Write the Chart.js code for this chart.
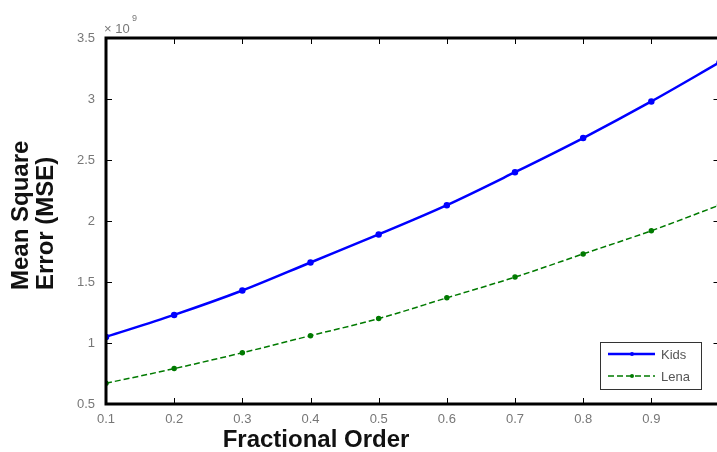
<!DOCTYPE html>
<html>
<head>
<meta charset="utf-8">
<script src="https://cdn.jsdelivr.net/npm/chart.js@4"></script>
<style>
  html, body { margin: 0; padding: 0; background: #fff; overflow: hidden; }
  #wrap { width: 717px; height: 452px; overflow: hidden; }
  canvas { display: block; }
</style>
</head>
<body>
<div id="wrap"><canvas id="chart" width="724" height="452"></canvas></div>
<script>
// fractional order values on the x axis
const orders = [0.1, 0.2, 0.3, 0.4, 0.5, 0.6, 0.7, 0.8, 0.9, 1.0];
// MSE in units of 1e9
const kidsMse = [1.05, 1.23, 1.43, 1.66, 1.89, 2.13, 2.40, 2.68, 2.98, 3.30];
const lenaMse = [0.67, 0.79, 0.92, 1.06, 1.20, 1.37, 1.54, 1.73, 1.92, 2.13];
const seriesNames = ['Kids', 'Lena'];
const yTitle = ['Mean Square', 'Error (MSE)'];
const xTitle = 'Fractional Order';

const toPoints = vals => vals.map((v, i) => ({ x: orders[i], y: v }));

// frame, inward ticks, titles, exponent and legend, MATLAB style
const matlabBits = {
    id: 'matlabBits',
    afterDatasetsDraw(chart) {
        const { ctx, chartArea: a, scales } = chart;
        ctx.save();
        ctx.strokeStyle = '#000';
        ctx.lineWidth = 1;
        scales.x.ticks.forEach(t => {
            const px = Math.round(scales.x.getPixelForValue(t.value)) + 0.5;
            ctx.beginPath();
            ctx.moveTo(px, a.bottom); ctx.lineTo(px, a.bottom - 6);
            ctx.moveTo(px, a.top); ctx.lineTo(px, a.top + 6);
            ctx.stroke();
        });
        scales.y.ticks.forEach(t => {
            const py = Math.round(scales.y.getPixelForValue(t.value)) + 0.5;
            ctx.beginPath();
            ctx.moveTo(a.left, py); ctx.lineTo(a.left + 6, py);
            ctx.moveTo(a.right, py); ctx.lineTo(a.right - 6, py);
            ctx.stroke();
        });
        ctx.lineWidth = 3;
        ctx.strokeRect(a.left, a.top, a.right - a.left, a.bottom - a.top);

        // exponent label
        ctx.fillStyle = '#777';
        ctx.font = '13px "Liberation Sans", Arial, sans-serif';
        ctx.textAlign = 'left';
        ctx.textBaseline = 'alphabetic';
        ctx.fillText('\u00d7 10', a.left - 2, a.top - 5);
        ctx.font = '9px "Liberation Sans", Arial, sans-serif';
        ctx.fillText('9', a.left + 26, a.top - 17);

        // axis titles
        ctx.fillStyle = '#111';
        ctx.font = 'bold 24px "Liberation Sans", Arial, sans-serif';
        ctx.textAlign = 'center';
        ctx.textBaseline = 'middle';
        ctx.fillText(xTitle, 316, 440);
        ctx.save();
        ctx.translate(21, 290);
        ctx.rotate(-Math.PI / 2);
        ctx.textAlign = 'left';
        ctx.fillText(yTitle[0], 0, 0);
        ctx.fillText(yTitle[1], 0, 25);
        ctx.restore();

        // legend box
        const bx = 600, by = 342, bw = 101, bh = 47;
        ctx.fillStyle = '#fff';
        ctx.fillRect(bx, by, bw, bh);
        ctx.strokeStyle = '#333';
        ctx.lineWidth = 1;
        ctx.strokeRect(bx + 0.5, by + 0.5, bw, bh);
        chart.data.datasets.forEach((ds, i) => {
            const ly = by + 12 + i * 22;
            ctx.strokeStyle = ds.borderColor;
            ctx.lineWidth = ds.borderWidth;
            ctx.setLineDash(ds.borderDash || []);
            ctx.beginPath();
            ctx.moveTo(bx + 8, ly); ctx.lineTo(bx + 55, ly);
            ctx.stroke();
            ctx.setLineDash([]);
            ctx.fillStyle = ds.borderColor;
            ctx.beginPath();
            ctx.arc(bx + 32, ly, 2, 0, Math.PI * 2);
            ctx.fill();
            ctx.fillStyle = '#555';
            ctx.font = '13px "Liberation Sans", Arial, sans-serif';
            ctx.textAlign = 'left';
            ctx.textBaseline = 'middle';
            ctx.fillText(ds.label, bx + 61, ly + 1);
        });
        ctx.restore();
    }
};

new Chart(document.getElementById('chart'), {
    type: 'line',
    data: {
        datasets: [
            {
                label: seriesNames[0],
                data: toPoints(kidsMse),
                borderColor: '#0000ff',
                backgroundColor: '#0000ff',
                borderWidth: 2.5,
                pointRadius: 2,
                pointHoverRadius: 2,
                cubicInterpolationMode: 'monotone',
                fill: false
            },
            {
                label: seriesNames[1],
                data: toPoints(lenaMse),
                borderColor: '#007a00',
                backgroundColor: '#007a00',
                borderWidth: 1.5,
                borderDash: [6, 3],
                pointRadius: 2,
                pointHoverRadius: 2,
                cubicInterpolationMode: 'monotone',
                fill: false
            }
        ]
    },
    options: {
        responsive: false,
        animation: false,
        events: [],
        layout: { padding: { left: 76, right: 2, top: 38, bottom: 24 } },
        plugins: { legend: { display: false }, tooltip: { enabled: false } },
        scales: {
            x: {
                type: 'linear',
                min: 0.1,
                max: 1,
                afterFit: s => { s.height = 24; },
                grid: { display: false },
                border: { display: false },
                ticks: {
                    stepSize: 0.1,
                    padding: 0,
                    color: '#777',
                    font: { family: '"Liberation Sans", Arial, sans-serif', size: 13 },
                    callback: v => String(+v.toFixed(1))
                }
            },
            y: {
                min: 0.5,
                max: 3.5,
                afterFit: s => { s.width = 30; },
                grid: { display: false },
                border: { display: false },
                ticks: {
                    stepSize: 0.5,
                    padding: 3,
                    color: '#777',
                    font: { family: '"Liberation Sans", Arial, sans-serif', size: 13 },
                    callback: v => String(+v.toFixed(1))
                }
            }
        }
    },
    plugins: [matlabBits]
});
</script>
</body>
</html>
